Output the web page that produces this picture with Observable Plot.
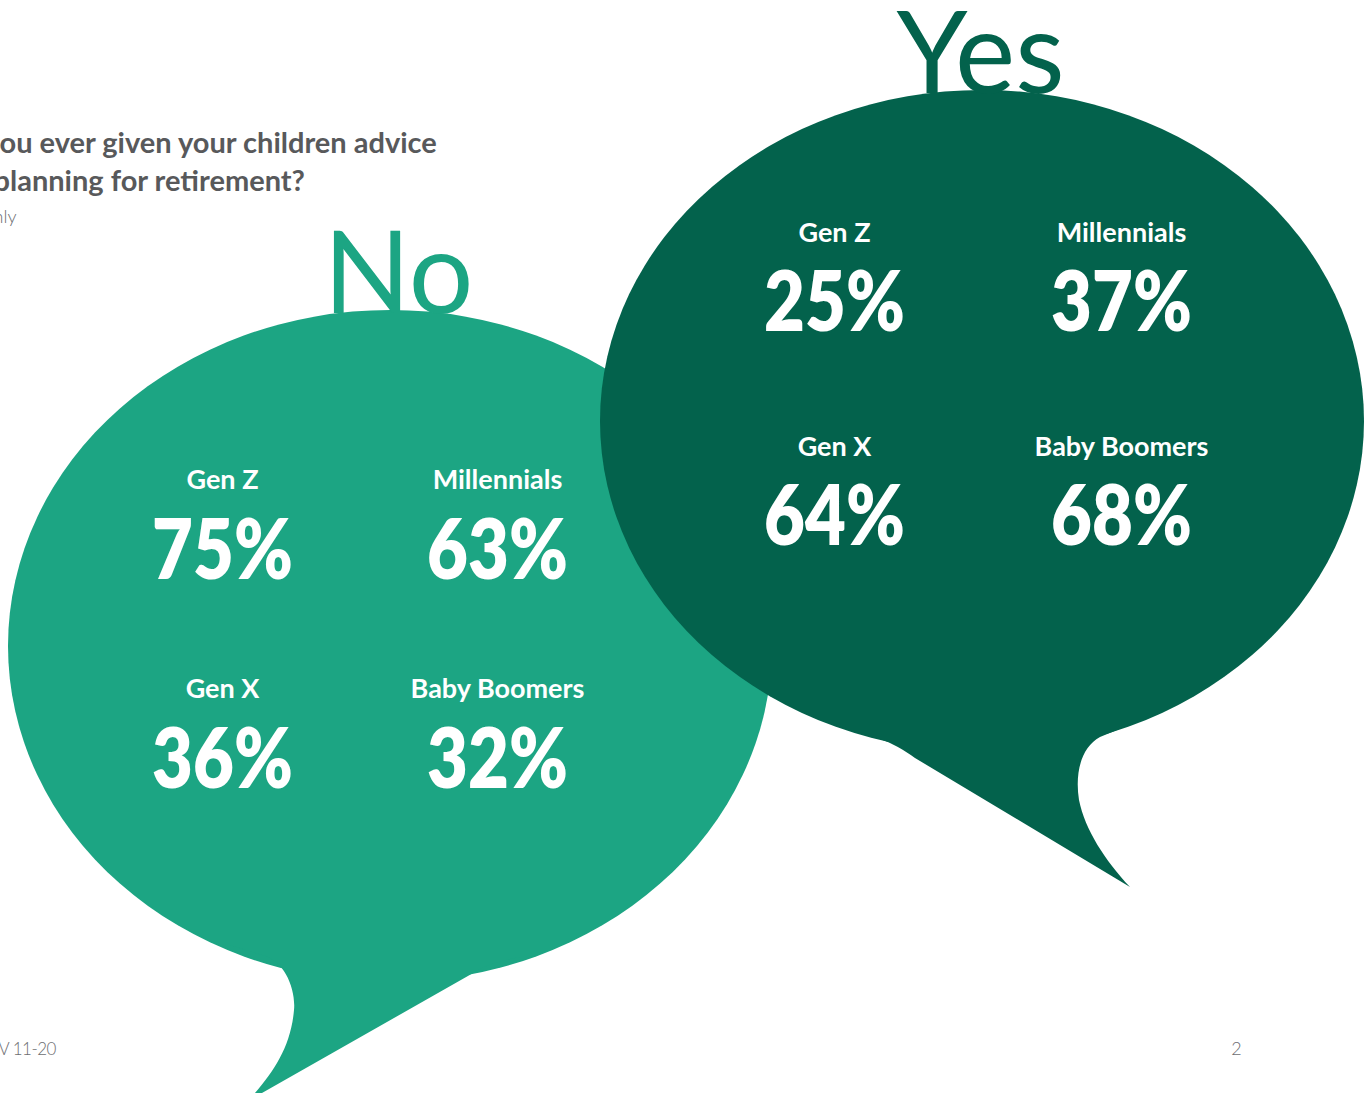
<!DOCTYPE html>
<html><head><meta charset="utf-8">
<script src="https://cdn.jsdelivr.net/npm/d3@7"></script>
<script src="https://cdn.jsdelivr.net/npm/@observablehq/plot@0.6"></script>
<style>html,body{margin:0;padding:0;background:#fff;overflow:hidden}#chart svg{display:block}</style>
</head><body><div id="chart"></div>
<script>
// ---- data ----
const answers = ["No", "Yes"];
const generations = ["Gen Z", "Millennials", "Gen X", "Baby Boomers"];
const noValues = [75, 63, 36, 32];
const yesValues = [25, 37, 64, 68];
const titleLines = ["ou ever given your children advice", "planning for retirement?"];
const subtitleText = "nly";
const footerLeft = "V 11-20";
const pageNumber = "2";

// ---- layout / style ----
const W = 1364, H = 1093;
const colors = {No: "#1ca583", Yes: "#03624c"};
const layout = {
  No: {
    cx: 390, cy: 646, rx: 382, ry: 336,
    tail: [["M",230,900],["L",230,945],["L",262,955],["C",285,960,296,990,294,1010],["C",291,1045,275,1070,255,1093],["L",262,1093],["L",482,968],["C",495,962,505,960,520,957],["L",520,900],["Z"]],
    word: {x: 398, y: 312}, cols: [222, 497], labelY: [488, 697], valueY: [578, 787]
  },
  Yes: {
    cx: 982, cy: 421, rx: 382, ry: 331,
    tail: [["M",880,700],["L",880,739],["C",892,743,904,750,915,758],["L",1130,887],["C",1105,860,1085,830,1079,800],["C",1075,775,1080,748,1100,737],["C",1115,731,1128,725,1140,720],["L",1140,700],["Z"]],
    word: {x: 980, y: 92}, cols: [834, 1121], labelY: [241, 455], valueY: [330, 544]
  }
};

const valuesByAnswer = {No: noValues, Yes: yesValues};
const cells = answers.flatMap(a => generations.map((g, i) => ({
  answer: a, generation: g, value: valuesByAnswer[a][i],
  x: layout[a].cols[i % 2],
  ly: layout[a].labelY[Math.floor(i / 2)],
  vy: layout[a].valueY[Math.floor(i / 2)]
})));

function bubbleMark(b, color) {
  return (index, scales) => {
    const sx = scales.x || (v => v), sy = scales.y || (v => v);
    const g = d3.create("svg:g");
    g.append("ellipse")
      .attr("cx", sx(b.cx)).attr("cy", sy(b.cy))
      .attr("rx", Math.abs(sx(b.cx + b.rx) - sx(b.cx)))
      .attr("ry", Math.abs(sy(b.cy + b.ry) - sy(b.cy)))
      .attr("fill", color);
    const d = b.tail.map(([c, ...n]) => c + n.map((v, k) => k % 2 ? sy(v) : sx(v)).join(",")).join(" ");
    g.append("path").attr("d", d).attr("fill", color);
    return g.node();
  };
}

const FONT = "Lato, 'Open Sans', sans-serif";
const textMarks = (a) => [
  Plot.text(cells.filter(d => d.answer === a), {
    x: "x", y: "ly", text: "generation", fill: "white", fontSize: 27, fontWeight: 700,
    fontFamily: FONT, lineAnchor: "bottom", textAnchor: "middle"
  }),
  Plot.text(cells.filter(d => d.answer === a), {
    x: "x", y: "vy", text: d => d.value + "%", fill: "white", fontSize: 84, fontWeight: 800,
    fontFamily: FONT, lineAnchor: "bottom", textAnchor: "middle"
  })
];

const chart = Plot.plot({
  width: W, height: H, margin: 0,
  x: {domain: [0, W], range: [0, W], axis: null},
  y: {domain: [0, H], range: [0, H], axis: null},
  style: {background: "white", overflow: "hidden"},
  marks: [
    Plot.text(titleLines, {
      x: (d, i) => i === 0 ? -1 : -7, y: (d, i) => 152 + i * 38, text: d => d,
      textAnchor: "start", lineAnchor: "bottom", fontSize: 29, fontWeight: 700,
      fill: "#58595b", fontFamily: FONT
    }),
    Plot.text([subtitleText], {x: 16, y: 222, text: d => d, textAnchor: "end", lineAnchor: "bottom",
      fontSize: 18, fontWeight: 300, fill: "#6d6e71", fontFamily: FONT}),
    Plot.text([footerLeft], {x: -2, y: 1054, text: d => d, textAnchor: "start", lineAnchor: "bottom",
      fontSize: 17, fontWeight: 300, fill: "#6d6e71", fontFamily: FONT}),
    Plot.text([pageNumber], {x: 1236, y: 1054, text: d => d, textAnchor: "middle", lineAnchor: "bottom",
      fontSize: 18, fontWeight: 300, fill: "#6d6e71", fontFamily: FONT}),
    bubbleMark(layout.No, colors.No),
    Plot.text([answers[0]], {x: layout.No.word.x, y: layout.No.word.y, text: d => d, fill: colors.No,
      fontSize: 114, fontWeight: 400, fontFamily: FONT, lineAnchor: "bottom", textAnchor: "middle"}),
    ...textMarks("No"),
    bubbleMark(layout.Yes, colors.Yes),
    Plot.text([answers[1]], {x: layout.Yes.word.x, y: layout.Yes.word.y, text: d => d, fill: colors.Yes,
      fontSize: 114, fontWeight: 400, fontFamily: FONT, lineAnchor: "bottom", textAnchor: "middle"}),
    ...textMarks("Yes")
  ]
});
// narrow the big percentage figures horizontally, like the condensed face of the original
d3.select(chart).selectAll('g[font-size="84"] text').each(function() {
  const t = this.getAttribute("transform") || "";
  this.setAttribute("transform", t + " scale(0.84,1)");
});
d3.select(chart).selectAll('g[font-size="17"] text').style("letter-spacing", "-0.5px");
document.getElementById("chart").append(chart);
</script>
</body></html>
